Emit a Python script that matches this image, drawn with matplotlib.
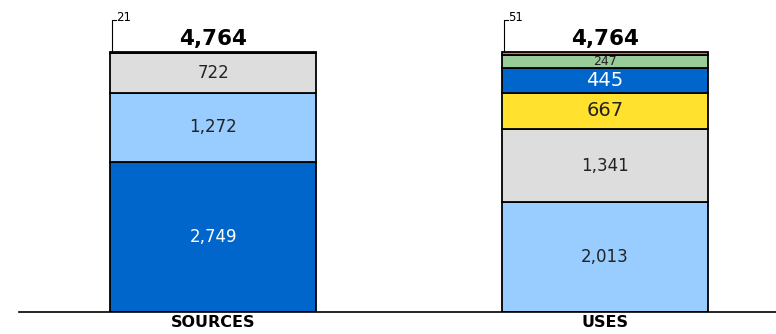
import matplotlib.pyplot as plt
import numpy as np

plt.rcParams['font.family'] = ['DejaVu Sans']

categories = ['SOURCES', 'USES']

# segments bottom -> top
sources_vals = [2749, 1272, 722, 21]
sources_cols = ['#0066CC', '#99CCFF', '#DDDDDD', '#333333']
uses_vals = [2013, 1341, 667, 445, 247, 51]
uses_cols = ['#99CCFF', '#DDDDDD', '#FFE12E', '#0066CC', '#99CC99', '#FF6633']

totals = [4764, 4764]

label_colors = {'#0066CC': 'white'}
label_sizes = {2013: 12, 2749: 12, 1272: 12, 722: 12, 1341: 12,
               667: 14, 445: 14, 247: 9}


def main():
    fig = plt.figure(figsize=(7.76, 3.34), dpi=100)
    ax = fig.add_axes([19 / 776, 1 - 312 / 334, 1 - 19 / 776, 312 / 334])

    width = 0.525
    xs = np.arange(len(categories))
    stacks = [(sources_vals, sources_cols), (uses_vals, uses_cols)]

    for x, (vals, cols), tot in zip(xs, stacks, totals):
        bottom = 0
        for v, c in zip(vals, cols):
            ax.bar(x, v, width, bottom=bottom, color=c, edgecolor='black',
                   linewidth=1.3, zorder=2)
            if v > 100:
                ax.text(x, bottom + v / 2, f'{v:,}', ha='center', va='center',
                        fontsize=label_sizes.get(v, 12),
                        color=label_colors.get(c, '#222222'), zorder=3)
            bottom += v
        # callout for the thin top segment
        small = vals[-1]
        lx = x - width / 2 + 0.005
        ly = bottom + 590
        ax.plot([lx, lx, lx + 0.01], [bottom, ly, ly],
                color='black', lw=0.8, zorder=3, clip_on=False)
        ax.text(lx + 0.011, ly + 40, f'{small:,}', ha='left',
                va='center', fontsize=8.5, zorder=3)
        # total
        ax.text(x, tot + 60, f'{tot:,}', ha='center', va='bottom',
                fontsize=15.5, fontweight='bold')

    ax.set_xlim(-0.495, 1.436)
    ax.set_ylim(0, 4764 * 312 / 260)
    ax.set_xticks(xs)
    ax.set_xticklabels(categories, fontsize=11.5, fontweight='bold')
    ax.tick_params(axis='x', length=0, pad=2)
    ax.set_yticks([])
    for s in ['left', 'right', 'top']:
        ax.spines[s].set_visible(False)
    ax.spines['bottom'].set_linewidth(1.2)

    fig.savefig('out.png', dpi=100)


if __name__ == '__main__':
    main()
